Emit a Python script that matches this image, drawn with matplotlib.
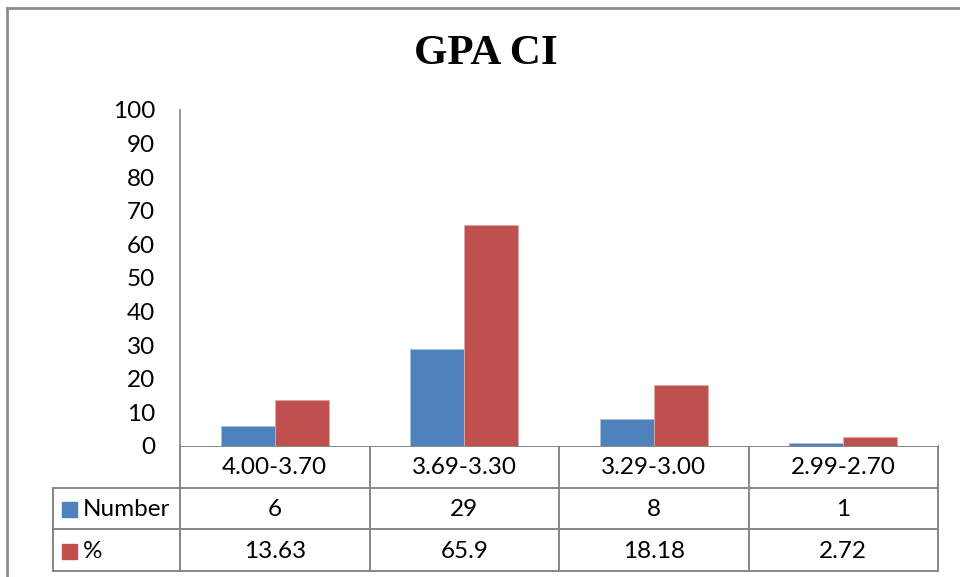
import matplotlib.pyplot as plt
from matplotlib.patches import Rectangle

categories = ["4.00-3.70", "3.69-3.30", "3.29-3.00", "2.99-2.70"]
number = [6, 29, 8, 1]
percent = [13.63, 65.9, 18.18, 2.72]
series_names = ["Number", "%"]
yticks = [0, 10, 20, 30, 40, 50, 60, 70, 80, 90, 100]

blue = "#4F81BD"
red = "#C0504D"
grid_col = "#868686"

W, H = 960, 577
fig = plt.figure(figsize=(W / 100, H / 100), dpi=100)

# chart box in pixel terms
x0, x1 = 180, 938
y_top, y_zero = 110, 446
row_y = [446, 488, 529, 571]
tbl_left = 53


def fx(px):
    return px / W


def fy(py):
    return 1 - py / H


ax = fig.add_axes([fx(x0), fy(y_zero), fx(x1) - fx(x0), fy(y_top) - fy(y_zero)])
n = len(categories)
xs = range(n)
bw = 0.285
ax.bar([x - bw / 2 for x in xs], number, width=bw, color=blue,
       edgecolor="#A9C0E0", linewidth=0.6)
ax.bar([x + bw / 2 for x in xs], percent, width=bw, color=red,
       edgecolor="#E0A9A7", linewidth=0.6)
ax.set_xlim(-0.5, n - 0.5)
ax.set_ylim(0, 100)
ax.set_yticks(yticks)
ax.set_xticks([])
for s in ["top", "right", "bottom"]:
    ax.spines[s].set_visible(False)
ax.spines["left"].set_color(grid_col)
ax.spines["left"].set_linewidth(1.2)
ax.tick_params(axis="y", length=0, pad=18, labelsize=17.5)
for lab in ax.get_yticklabels():
    lab.set_fontfamily("Lato")

# overlay in pixel coords for the data table and frame
ov = fig.add_axes([0, 0, 1, 1], zorder=-1)
ov.set_xlim(0, W)
ov.set_ylim(H, 0)
ov.axis("off")

lw = 1.4
col_w = (x1 - x0) / n
# horizontal lines
ov.plot([x0, x1], [row_y[0], row_y[0]], color=grid_col, lw=lw)
for y in row_y[1:]:
    ov.plot([tbl_left, x1], [y, y], color=grid_col, lw=lw)
# vertical lines
ov.plot([tbl_left, tbl_left], [row_y[1], row_y[3]], color=grid_col, lw=lw)
for i in range(n + 1):
    xv = x0 + i * col_w
    ov.plot([xv, xv], [row_y[0], row_y[3]], color=grid_col, lw=lw)

font = dict(fontfamily="Lato", fontsize=17.5, color="black")
for i, c in enumerate(categories):
    ov.text(x0 + (i + 0.5) * col_w, (row_y[0] + row_y[1]) / 2 + 1, c,
            ha="center", va="center", **font)
for r, vals in enumerate([number, percent]):
    yc = (row_y[r + 1] + row_y[r + 2]) / 2 + 1
    for i, v in enumerate(vals):
        ov.text(x0 + (i + 0.5) * col_w, yc, str(v), ha="center", va="center", **font)
    ov.add_patch(Rectangle((62, yc - 7.5), 15, 15, color=[blue, red][r]))
    ov.text(83, yc, series_names[r], ha="left", va="center", **font)

ov.text(486, 54, "GPA CI", ha="center", va="center", fontfamily="Liberation Serif",
        fontweight="bold", fontsize=31)

# outer frame
ov.plot([7, 7], [8, H + 5], color="#8C8C8C", lw=2)
ov.plot([7, W + 5], [8, 8], color="#8C8C8C", lw=2)

fig.savefig("out.png", dpi=100)
